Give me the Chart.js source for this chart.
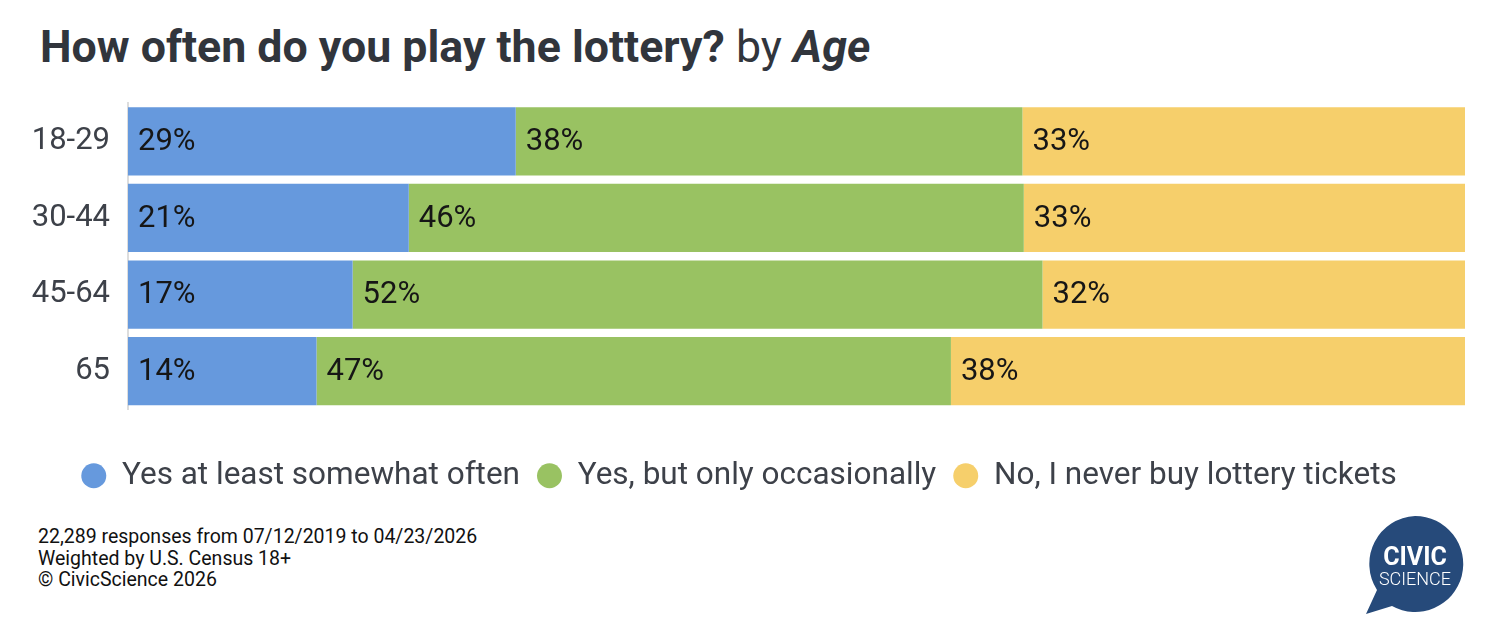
<!DOCTYPE html>
<html>
<head>
<meta charset="utf-8">
<script src="https://cdn.jsdelivr.net/npm/chart.js@4.4.1/dist/chart.umd.min.js"></script>
<style>
  html, body { margin: 0; padding: 0; background: #fff; }
  body { width: 1510px; height: 626px; position: relative; overflow: hidden; font-family: Roboto, "Noto Sans", sans-serif; }
  #title { position: absolute; left: 40px; top: 21px; font-size: 44.7px; color: #31353c; white-space: nowrap; line-height: normal; }
  #title b { font-weight: 700; }
  #title .by { font-weight: 400; }
  #title i { font-weight: 700; font-style: italic; }
  #wrap { position: absolute; left: 0; top: 90px; width: 1510px; height: 420px; }
  #footer { position: absolute; left: 38px; top: 526px; font-size: 19.5px; line-height: 21.5px; color: #111; white-space: nowrap; }
  #logo { position: absolute; left: 1356px; top: 508px; }
</style>
</head>
<body>
<div id="title"><b>How often do you play the lottery?</b> <span class="by">by</span> <i>Age</i></div>
<div id="wrap"><canvas id="c" width="1510" height="420"></canvas></div>
<div id="footer">22,289 responses from 07/12/2019 to 04/23/2026<br>Weighted by U.S. Census 18+<br>© CivicScience 2026</div>
<svg id="logo" width="120" height="112" viewBox="0 0 120 112">
  <path d="M59 8 A48 48 0 1 1 36 98 L10 106 L21 82 A48 48 0 0 1 59 8 Z" fill="#264a7a"/>
  <text x="59" y="57" text-anchor="middle" font-family="Roboto, sans-serif" font-weight="700" font-size="25" fill="#fff">CIVIC</text>
  <text x="59" y="77" text-anchor="middle" font-family="Roboto, sans-serif" font-weight="300" font-size="18" fill="#fff">SCIENCE</text>
</svg>
<script>
const categories = ["18-29", "30-44", "45-64", "65"];
const seriesNames = ["Yes at least somewhat often", "Yes, but only occasionally", "No, I never buy lottery tickets"];
const oftenValues = [29.0, 21.0, 16.8, 14.1];
const occasionalValues = [37.9, 46.0, 51.6, 47.45];
const neverValues = [33.1, 33.0, 31.6, 38.45];
const seriesColors = ["#6699dd", "#99c262", "#f6cf6b"];

const segmentLabels = {
  id: "segmentLabels",
  afterDatasetsDraw(chart) {
    const ctx = chart.ctx;
    ctx.save();
    ctx.font = "31px Roboto, sans-serif";
    ctx.fillStyle = "#161616";
    ctx.textAlign = "left";
    ctx.textBaseline = "middle";
    chart.data.datasets.forEach((ds, di) => {
      const meta = chart.getDatasetMeta(di);
      meta.data.forEach((bar, i) => {
        const left = Math.min(bar.x, bar.base);
        ctx.fillText(Math.round(ds.data[i]) + "%", left + 10, bar.y + 1);
      });
    });
    ctx.restore();
  }
};

const data = {
  labels: categories,
  datasets: [
    { label: seriesNames[0], data: oftenValues, backgroundColor: seriesColors[0] },
    { label: seriesNames[1], data: occasionalValues, backgroundColor: seriesColors[1] },
    { label: seriesNames[2], data: neverValues, backgroundColor: seriesColors[2] }
  ]
};

new Chart(document.getElementById("c"), {
  type: "bar",
  data,
  plugins: [segmentLabels],
  options: {
    indexAxis: "y",
    responsive: false,
    animation: false,
    layout: { padding: { left: 13, right: 45, top: 13, bottom: 8.5 } },
    datasets: { bar: { categoryPercentage: 1, barPercentage: 0.89, borderWidth: 0 } },
    scales: {
      x: {
        stacked: true, min: 0, max: 100, display: true,
        ticks: { display: false },
        grid: { display: false, drawTicks: false },
        border: { display: false },
        afterFit(scale) { scale.height = 33.5; scale.paddingLeft = 0; scale.paddingRight = 0; }
      },
      y: {
        stacked: true,
        grid: { display: false, drawTicks: false },
        border: { display: true, color: "#dddddd", width: 2 },
        ticks: { font: { size: 31, family: "Roboto, sans-serif" }, color: "#3d4149", padding: 18 },
        afterFit(scale) { scale.width = 115; scale.paddingTop = 0; scale.paddingBottom = 0; }
      }
    },
    plugins: {
      tooltip: { enabled: false },
      legend: {
        position: "bottom",
        labels: {
          usePointStyle: true,
          pointStyle: "circle",
          pointStyleWidth: 25,
          boxHeight: 17.7,
          font: { size: 31.5, family: "Roboto, sans-serif" },
          color: "#3d4149",
          padding: 17
        }
      }
    }
  }
});
</script>
</body>
</html>
